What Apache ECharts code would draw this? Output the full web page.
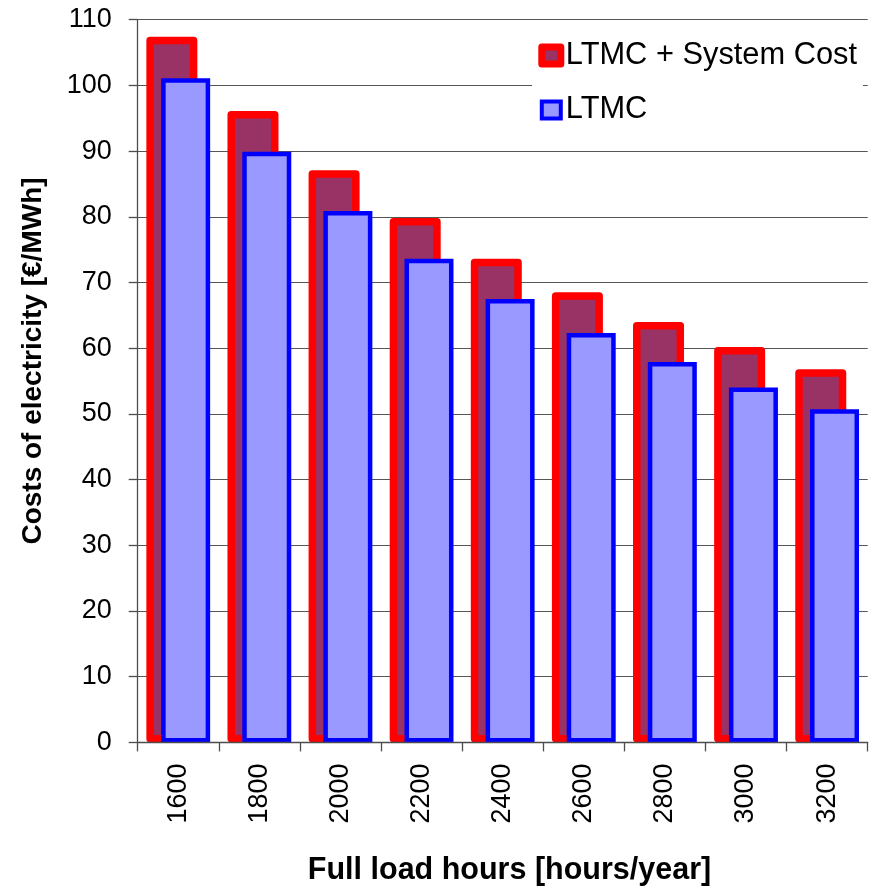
<!DOCTYPE html>
<html>
<head>
<meta charset="utf-8">
<script src="https://cdn.jsdelivr.net/npm/echarts@6/dist/echarts.min.js"></script>
<style>
  html, body { margin: 0; padding: 0; background: #ffffff; }
  #chart { width: 872px; height: 888px; }
</style>
</head>
<body>
<div id="chart"></div>
<script>
// Full load hours per year (categories)
const fullLoadHours = ['1600', '1800', '2000', '2200', '2400', '2600', '2800', '3000', '3200'];
// Cost of electricity in €/MWh
const ltmcPlusSystemCost = [107.4, 96.1, 87.1, 79.8, 73.6, 68.5, 64.0, 60.2, 56.8];
const ltmc = [101.1, 89.9, 80.9, 73.6, 67.5, 62.3, 57.9, 54.0, 50.7];
const seriesNames = ['LTMC + System Cost', 'LTMC'];

const FONT = '"Liberation Sans", Arial, Helvetica, sans-serif';

const chart = echarts.init(document.getElementById('chart'), null, { renderer: 'canvas' });

chart.setOption({
  backgroundColor: '#ffffff',
  animation: false,
  textStyle: { fontFamily: FONT, color: '#000' },
  grid: { left: 137.7, right: 4.3, top: 19.7, bottom: 145.6, containLabel: false },
  legend: {
    orient: 'vertical',
    left: 532,
    top: 22,
    padding: [18, 6, 16, 6.3],
    backgroundColor: '#ffffff',
    icon: 'rect',
    itemWidth: 19,
    itemHeight: 17,
    itemGap: 23.5,
    itemTextGap: 5.5,
    selectedMode: false,
    textStyle: { fontFamily: FONT, fontSize: 30.8, color: '#000', lineHeight: 30 },
    data: [
      { name: seriesNames[0], itemStyle: { color: '#993366', borderColor: '#ff0000', borderWidth: 7 } },
      { name: seriesNames[1], itemStyle: { color: '#9999ff', borderColor: '#0000ff', borderWidth: 4 } }
    ]
  },
  xAxis: {
    type: 'category',
    data: fullLoadHours,
    boundaryGap: true,
    z: 5,
    axisLine: { show: true, lineStyle: { color: '#4d4d4d', width: 1.3 } },
    axisTick: { show: true, length: 9, lineStyle: { color: '#4d4d4d', width: 1.3 } },
    axisLabel: {
      rotate: 90,
      margin: 21,
      fontFamily: FONT,
      fontSize: 27,
      color: '#000'
    },
    splitLine: { show: false }
  },
  yAxis: {
    type: 'value',
    min: 0,
    max: 110,
    interval: 10,
    axisLine: { show: true, lineStyle: { color: '#4d4d4d', width: 1.3 } },
    axisTick: { show: true, length: 9, lineStyle: { color: '#4d4d4d', width: 1.3 } },
    axisLabel: { margin: 26, fontFamily: FONT, fontSize: 27, color: '#000' },
    splitLine: { show: true, lineStyle: { color: '#555555', width: 1.2 } }
  },
  series: [
    {
      name: seriesNames[0],
      type: 'bar',
      data: ltmcPlusSystemCost,
      barWidth: 51,
      barGap: '-71%',
      itemStyle: { color: '#993366', borderColor: '#ff0000', borderWidth: 7.5, borderJoin: 'round' }
    },
    {
      name: seriesNames[1],
      type: 'bar',
      data: ltmc,
      barWidth: 49,
      barGap: '-71%',
      itemStyle: { color: '#9999ff', borderColor: '#0000ff', borderWidth: 4.5 }
    }
  ],
  graphic: [
    {
      type: 'text',
      x: 33,
      y: 361,
      rotation: Math.PI / 2,
      style: {
        text: 'Costs of electricity [€/MWh]',
        fontFamily: FONT,
        fontSize: 28,
        fontWeight: 'bold',
        fill: '#000',
        align: 'center',
        verticalAlign: 'middle'
      }
    },
    {
      type: 'text',
      x: 509.5,
      y: 871,
      style: {
        text: 'Full load hours [hours/year]',
        fontFamily: FONT,
        fontSize: 30.5,
        fontWeight: 'bold',
        fill: '#000',
        align: 'center',
        verticalAlign: 'middle'
      }
    }
  ]
});
</script>
</body>
</html>
